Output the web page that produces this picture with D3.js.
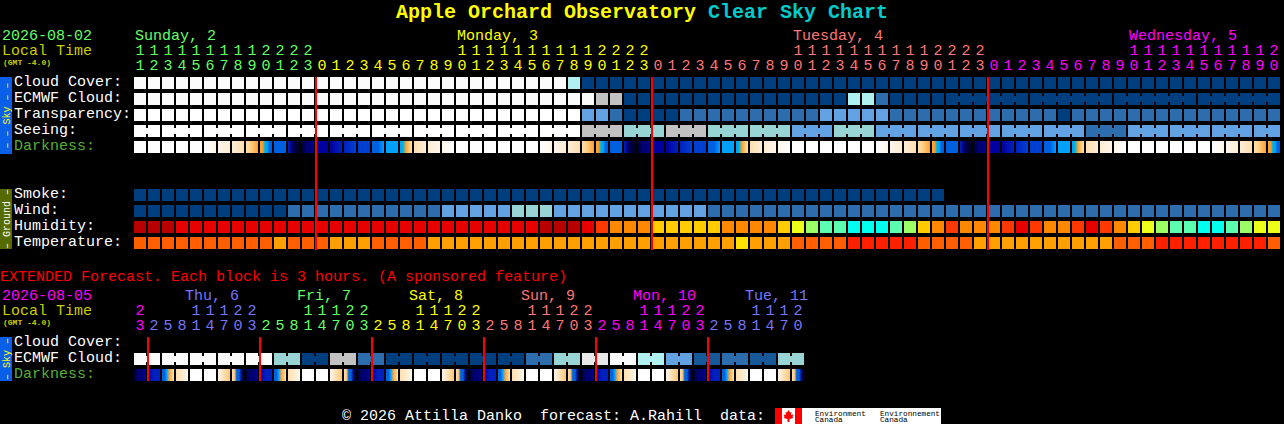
<!DOCTYPE html>
<html>
<head>
<meta charset="utf-8">
<script src="https://cdn.jsdelivr.net/npm/d3@7/dist/d3.min.js"></script>
<style>
html,body{margin:0;padding:0;background:#000;overflow:hidden}
svg{display:block}
text{font-family:"Liberation Mono",monospace;font-size:15px;white-space:pre}
</style>
</head>
<body>
<script>
// ---------- text ----------
const titleMain = "Apple Orchard Observatory";
const titleSub = "Clear Sky Chart";
const forecastDate = "2026-08-02";
const extendedDate = "2026-08-05";
const localTime = "Local Time";
const gmtOffset = "(GMT -4.0)";
const extendedNote = "EXTENDED Forecast. Each block is 3 hours. (A sponsored feature)";
const footer = "\u00a9 2026 Attilla Danko  forecast: A.Rahill  data:";
const skyRows = ["Cloud Cover:", "ECMWF Cloud:", "Transparency:", "Seeing:", "Darkness:"];
const groundRows = ["Smoke:", "Wind:", "Humidity:", "Temperature:"];
const extRows = ["Cloud Cover:", "ECMWF Cloud:", "Darkness:"];
const creditNames = ["Environment", "Environnement"];
const creditOrg = "Canada";

// ---------- hourly time axis ----------
const hours = [11,12,13,14,15,16,17,18,19,20,21,22,23,
  0,1,2,3,4,5,6,7,8,9,10,11,12,13,14,15,16,17,18,19,20,21,22,23,
  0,1,2,3,4,5,6,7,8,9,10,11,12,13,14,15,16,17,18,19,20,21,22,23,
  0,1,2,3,4,5,6,7,8,9,10,11,12,13,14,15,16,17,18,19,20];
const dayNames = ["Sunday, 2", "Monday, 3", "Tuesday, 4", "Wednesday, 5"];
const dayLabelCols = [0, 23, 47, 71];
const dayStartCols = [0, 13, 37, 61];
const dayColors = ["#66ff66", "#ffff00", "#ff7777", "#ff00ff"];
const midnightCols = [13, 37, 61];

// ---------- 3-hour time axis ----------
const extHours = [23,
  2,5,8,11,14,17,20,23, 2,5,8,11,14,17,20,23, 2,5,8,11,14,17,20,23,
  2,5,8,11,14,17,20,23, 2,5,8,11,14,17,20,23, 2,5,8,11,14,17,20];
const extDayNames = ["Thu, 6", "Fri, 7", "Sat, 8", "Sun, 9", "Mon, 10", "Tue, 11"];
const extDayLabelCols = [3, 11, 19, 27, 35, 43];
const extDayStartCols = [0, 1, 9, 17, 25, 33, 41];
const extDayColors = ["#ff00ff", "#7777ff", "#66ff66", "#ffff00", "#ff7777", "#ff00ff", "#7777ff"];
const extMidnightCols = [1, 9, 17, 25, 33, 41];

// ---------- hourly series ----------
const cloudCover = [100,100,100,100,100,100,100,100,100,100,100,100,100,100,100,100,100,100,100,100,100,100,100,100,100,100,100,100,100,100,100,70,
  0,0,0,0,0,0,0,0,0,0,0,0,0,0,0,0,0,0,0,0,0,0,0,0,0,0,0,0,0,0,0,0,0,0,0,0,0,0,0,0,0,0,0,0,0,0,0,0,0,0];
const ecmwfCloud = [100,100,100,100,100,100,100,100,100,100,100,100,100,100,100,100,100,100,100,100,100,100,100,100,100,100,100,100,100,100,100,100,100,
  80,80,0,0,0,0,0,0,0,0,0,0,0,0,0,0,0,0,70,70,20,
  0,0,0,0,0,0,0,0,0,0,0,0,0,0,0,0,0,0,0,0,0,0,0,0,0,0,0,0];
const transparency = [105,105,105,105,105,105,105,105,105,105,105,105,105,105,105,105,105,105,105,105,105,105,105,105,105,105,105,105,105,105,105,105,
  40,40,20,0,0,0,0,20,20,20,20,20,20,20,20,20,20,40,40,40,40,40,
  20,20,20,20,20,20,20,20,20,20,20,20,0,20,20,20,20,20,20,20,20,20,20,20,20,20,20,20];
const seeing = [105,105,105,105,105,105,105,105,105,105,105,105,105,105,105,105,105,105,105,105,105,105,105,105,105,105,105,105,105,105,105,105,
  80,80,80,60,60,60,80,80,80,60,60,60,60,60,60,40,40,40,60,60,60,
  40,40,40,40,40,40,40,40,40,40,40,40,40,40,40,20,20,20,40,40,40,40,40,40,40,40,40,40,40];
const smoke = [0,0,0,0,0,0,0,0,0,0,0,0,0,0,0,0,0,0,0,0,0,0,0,0,0,0,0,0,0,0,0,0,0,0,0,0,0,0,0,0,0,0,0,0,0,0,0,0,0,0,0,0,0,0,0,0,0,0];
const wind = [0,0,0,0,0,0,0,0,0,0,0,20,20,20,20,20,20,20,20,20,20,20,40,40,40,40,40,60,60,60,
  40,40,40,40,40,40,40,40,40,40,40,
  20,20,20,20,20,20,20,20,20,20,20,20,20,20,20,20,20,20,20,20,20,20,20,20,20,20,20,20,20,20,20,20,20,20,20,20,20,20,20,20,20];
const humidity = [97,97,97,92,92,92,92,92,92,92,92,92,92,92,92,92,92,92,92,92,92,92,92,92,92,92,92,92,92,97,97,97,92,87,
  82,82,82,77,77,77,77,77,82,82,82,82,77,72,67,62,62,57,57,57,62,67,77,82,87,82,82,82,87,92,87,82,82,87,92,87,82,77,72,67,62,62,57,57,62,67,72,72];
const temperature = [27,27,27,27,27,27,27,27,27,27,24,27,27,27,24,24,24,27,27,27,27,
  24,24,24,24,24,24,24,24,24,24,24,24,24,24,24,24,24,24,24,24,24,24,21,24,24,24,
  27,27,27,27,30,30,30,30,30,27,27,27,27,24,24,24,24,24,24,24,24,24,24,27,27,27,30,30,30,30,30,30,30,30,27];
// each cell of the darkness strip runs through these steps of darkRamp, left to right
const darkness = [[0,0],[0,0],[0,0],[0,0],[0,0],[0,1],[1,2],[2,3],[3,4,5],[5,5,6,7,8,8],[8,8],[10,12,13,13],[13,12,12,11],
  [11,11],[11,10],[10,9],[9,9],[8,8,7],[7,7],[7,6,5,4,3],[3,2],[2,1],[1,0],[0,0],[0,0],[0,0],[0,0],[0,0],[0,0],[0,1],[1,2],[2,3],[3,4,5],[5,5,6,7,8,8],[8,8],[10,12,13,13],[13,12,12,11],
  [11,11],[11,10],[10,9],[9,9],[8,8,7],[7,7],[7,6,5,4,3],[3,2],[2,1],[1,0],[0,0],[0,0],[0,0],[0,0],[0,0],[0,0],[0,1],[1,2],[2,3],[3,4,5],[5,5,6,7,8,8],[8,8],[10,12,13,13],[13,12,12,11],
  [11,11],[11,10],[10,9],[9,9],[8,8,7],[7,7],[7,6,5,4,3],[3,2],[2,1],[1,0],[0,0],[0,0],[0,0],[0,0],[0,0],[0,0],[0,1],[1,2],[2,3],[3,4,5],[5,5,6,7,8,8]];

// ---------- 3-hour series ----------
const extEcmwf = [100,100,100,100,100,100,100,100,100,100,60,60,0,0,80,80,20,20,0,0,0,0,0,0,0,0,0,0,20,20,60,60,90,90,100,100,70,70,40,40,10,10,20,20,10,10,60,60];
const extDarkness = [[13,12,12,11],[11,10,10],[8,8,7,5,4,3],[3,1],[0,0],[0,0],[1,3,4],[3,4,8,8,12,13],
  [13,12,12,11],[11,10,10],[8,8,7,5,4,3],[3,1],[0,0],[0,0],[1,3,4],[3,4,8,8,12,13],
  [13,12,12,11],[11,10,10],[8,8,7,5,4,3],[3,1],[0,0],[0,0],[1,3,4],[3,4,8,8,12,13],
  [13,12,12,11],[11,10,10],[8,8,7,5,4,3],[3,1],[0,0],[0,0],[1,3,4],[3,4,8,8,12,13],
  [13,12,12,11],[11,10,10],[8,8,7,5,4,3],[3,1],[0,0],[0,0],[1,3,4],[3,4,8,8,12,13],
  [13,12,12,11],[11,10,10],[8,8,7,5,4,3],[3,1],[0,0],[0,0],[1,3,4],[3,4,8,8,12,13]];

// ---------- runs of cells that come from one forecast step ----------
const seeingRuns = [[0,1],[2,4],[5,7],[8,10],[11,13],[14,16],[17,19],[20,22],[23,25],[26,28],[29,31],[32,34],[35,37],[38,40],[41,43],[44,46],[47,49],[50,52],[53,55],[56,58],[59,61],[62,64],[65,67],[68,70],[71,73],[74,76],[77,79],[80,81]];
const ecmwfRuns = [[58,63],[64,69],[70,75],[76,81]];
const extRuns = [[0,1],[2,3],[4,5],[6,7],[8,9],[10,11],[12,13],[14,15],[16,17],[18,19],[20,21],[22,23],[24,25],[26,27],[28,29],[30,31],[32,33],[34,35],[36,37],[38,39],[40,41],[42,43],[44,45],[46,47]];

// ---------- colour keys ----------
const skyLevels = [0,10,20,40,60,70,80,90,100,105];
const skyColors = ["#003f7f","#175898","#2d6dad","#62a2e2","#98d4d4","#aff0f0","#c2c2c2","#e9e9e9","#fbfbfb","#ffffff"];
const humidityLevels = [97,92,87,82,77,72,67,62,57];
const humidityColors = ["#b80000","#e60000","#ff3800","#ff8800","#ffcc00","#ecff18","#9cff66","#5cffb0","#00ffee"];
const tempLevels = [30,27,24,21];
const tempColors = ["#ff2000","#ff5f00","#ffa000","#ffe000"];
const darkSteps = [0,1,2,3,4,5,6,7,8,9,10,11,12,13];
const darkRamp = ["#ffffff","#fff6ea","#ffecd4","#ffdfb0","#ffc878","#ffa030","#00b4d8","#00a0ff","#0060e0","#0040d0","#0020c0","#0000a0","#000070","#000030"];

// ---------- scales ----------
const W = 1284, H = 424;
const svg = d3.select("body").append("svg").attr("width", W).attr("height", H).style("background", "#000");
const defs = svg.append("defs");

const x = d3.scaleBand().domain(d3.range(hours.length)).range([134, 1280]).paddingInner(2/14).paddingOuter(0);
const xe = d3.scaleBand().domain(d3.range(extHours.length)).range([134, 804]).paddingInner(2/14).paddingOuter(0);
const ySky = d3.scaleBand().domain(skyRows).range([77, 153]).paddingInner(0.25).paddingOuter(0);
const yGround = d3.scaleBand().domain(groundRows).range([189, 249]).paddingInner(0.25).paddingOuter(0);
const yExt = d3.scaleBand().domain(extRows).range([337, 381]).paddingInner(0.25).paddingOuter(0);
const skyC = d3.scaleOrdinal(skyLevels, skyColors);
const humC = d3.scaleOrdinal(humidityLevels, humidityColors);
const tempC = d3.scaleOrdinal(tempLevels, tempColors);
const darkC = d3.scaleOrdinal(darkSteps, darkRamp);

// ---------- drawing helpers ----------
function txt(parent, s, px, py, color, opts) {
  const o = opts || {};
  return parent.append("text").attr("x", px).attr("y", py).attr("fill", color)
    .style("font-size", (o.size || 15) + "px").style("font-weight", o.weight || "normal").text(s);
}
function cells(sx, y, row, values, colorOf, runs) {
  const g = svg.append("g");
  const yy = y(row), h = y.bandwidth(), w = sx.bandwidth();
  g.selectAll("rect.c").data(values).join("rect").attr("class", "c")
    .attr("x", (d, i) => sx(i)).attr("y", yy).attr("width", w).attr("height", h)
    .attr("fill", d => colorOf(d));
  (runs || []).forEach(r => {
    const links = d3.range(r[0], r[1]);
    g.selectAll(null).data(links).join("rect")
      .attr("x", c => sx(c) + w).attr("y", yy + h * 0.25)
      .attr("width", sx.step() - w).attr("height", h * 0.5)
      .attr("fill", c => colorOf(values[c]));
  });
}
function gradientCells(sx, y, row, values, idPrefix) {
  const grads = defs.selectAll(null).data(values).join("linearGradient")
    .attr("id", (d, i) => idPrefix + i);
  grads.selectAll("stop").data(d => d.map((v, j) => ({v, o: j / (d.length - 1)}))).join("stop")
    .attr("offset", s => s.o).attr("stop-color", s => darkC(s.v));
  svg.append("g").selectAll("rect").data(values).join("rect")
    .attr("x", (d, i) => sx(i)).attr("y", y(row)).attr("width", sx.bandwidth()).attr("height", y.bandwidth())
    .attr("fill", (d, i) => `url(#${idPrefix}${i})`);
}
function colorForCol(col, starts, colors) {
  return colors[d3.bisectRight(starts, col) - 1];
}
function hourAxis(sx, labels, yPos, fmt, keep, starts, colors) {
  const ax = d3.axisTop(sx).tickSize(0).tickPadding(0).offset(0)
    .tickValues(d3.range(labels.length).filter(i => keep(labels[i])))
    .tickFormat(i => fmt(labels[i]));
  const g = svg.append("g").attr("transform", `translate(0,${yPos})`).call(ax);
  g.select(".domain").remove();
  g.selectAll("text").attr("dy", 0).attr("fill", i => colorForCol(i, starts, colors))
    .style("font-family", '"Liberation Mono",monospace').style("font-size", "15px");
}
function sideBar(y0, y1, fill, label, color) {
  svg.append("rect").attr("x", 0).attr("y", y0).attr("width", 12).attr("height", y1 - y0).attr("fill", fill);
  svg.append("text").attr("transform", `translate(10,${(y0 + y1) / 2}) rotate(-90)`)
    .attr("text-anchor", "middle").attr("fill", color)
    .style("font-size", "10px").text(label);
}

// ---------- title ----------
txt(svg, titleMain, 396, 18, "#ffff00", {size: 20, weight: "bold"});
txt(svg, titleSub, 708, 18, "#00cccc", {size: 20, weight: "bold"});

// ---------- hourly header ----------
txt(svg, forecastDate, 2, 40, "#66ff66");
txt(svg, localTime, 2, 55, "#cccc00");
txt(svg, gmtOffset, 3, 65, "#cccc00", {size: 8, weight: "bold"});
dayNames.forEach((d, i) => txt(svg, d, x(dayLabelCols[i]) + 1, 40, dayColors[i]));
hourAxis(x, hours, 55, h => Math.floor(h / 10), h => h >= 10, dayStartCols, dayColors);
hourAxis(x, hours, 70, h => h % 10, () => true, dayStartCols, dayColors);

// ---------- sky block ----------
sideBar(77, 154, "#0a5fe8", "\u2013 \u2013 Sky \u2013 \u2013", "#ffff00");
skyRows.forEach((r, i) => txt(svg, r, 14, ySky(r) + 9, i === 4 ? "#55b030" : "#ffffff"));
cells(x, ySky, skyRows[0], cloudCover, skyC);
cells(x, ySky, skyRows[1], ecmwfCloud, skyC, ecmwfRuns);
cells(x, ySky, skyRows[2], transparency, skyC);
cells(x, ySky, skyRows[3], seeing, skyC, seeingRuns);
gradientCells(x, ySky, skyRows[4], darkness, "dk");

// ---------- ground block ----------
sideBar(189, 249, "#556b00", "\u2013 Ground \u2013", "#ffffff");
groundRows.forEach(r => txt(svg, r, 14, yGround(r) + 9, "#ffffff"));
cells(x, yGround, groundRows[0], smoke, skyC);
cells(x, yGround, groundRows[1], wind, skyC);
cells(x, yGround, groundRows[2], humidity, humC);
cells(x, yGround, groundRows[3], temperature, tempC);

// ---------- midnight markers ----------
svg.append("g").selectAll("rect").data(midnightCols).join("rect")
  .attr("x", c => x(c) - 1).attr("y", 77).attr("width", 2).attr("height", 173).attr("fill", "#ff0000");

// ---------- extended ----------
txt(svg, extendedNote, 0, 281, "#ff0000");
txt(svg, extendedDate, 2, 300, "#ff00ff");
txt(svg, localTime, 2, 315, "#cccc00");
txt(svg, gmtOffset, 3, 325, "#cccc00", {size: 8, weight: "bold"});
extDayNames.forEach((d, i) => txt(svg, d, xe(extDayLabelCols[i]) + 9, 300, extDayColors[i + 1]));
hourAxis(xe, extHours, 315, h => Math.floor(h / 10), h => h >= 10, extDayStartCols, extDayColors);
hourAxis(xe, extHours, 330, h => h % 10, () => true, extDayStartCols, extDayColors);
sideBar(337, 381, "#0a5fe8", "\u2013 Sky \u2013", "#ffff00");
extRows.forEach((r, i) => txt(svg, r, 14, yExt(r) + 9, i === 2 ? "#55b030" : "#ffffff"));
cells(xe, yExt, extRows[1], extEcmwf, skyC, extRuns);
gradientCells(xe, yExt, extRows[2], extDarkness, "xd");
svg.append("g").selectAll("rect").data(extMidnightCols).join("rect")
  .attr("x", c => xe(c) - 1).attr("y", 337).attr("width", 2).attr("height", 44).attr("fill", "#ff0000");

// ---------- footer and data credit ----------
txt(svg, footer, 342, 420, "#ffffff");
const logo = svg.append("g");
logo.append("rect").attr("x", 775).attr("y", 408).attr("width", 166).attr("height", 16).attr("fill", "#ffffff");
logo.append("rect").attr("x", 775).attr("y", 408).attr("width", 7).attr("height", 16).attr("fill", "#ff0000");
logo.append("rect").attr("x", 795).attr("y", 408).attr("width", 7).attr("height", 16).attr("fill", "#ff0000");
logo.append("path").attr("transform", "translate(788.5,416)")
  .attr("d", "M0,-6L1.5,-3.5L3,-4L2.5,-1L5,-1.5L4,1L5,2L1,3V6H-1V3L-5,2L-4,1L-5,-1.5L-2.5,-1L-3,-4L-1.5,-3.5Z")
  .attr("fill", "#ff0000");
[815, 880].forEach((lx, i) => {
  txt(logo, creditNames[i], lx, 415.5, "#000000", {size: 7.7});
  txt(logo, creditOrg, lx, 422.2, "#000000", {size: 7.7});
});
</script>
</body>
</html>
